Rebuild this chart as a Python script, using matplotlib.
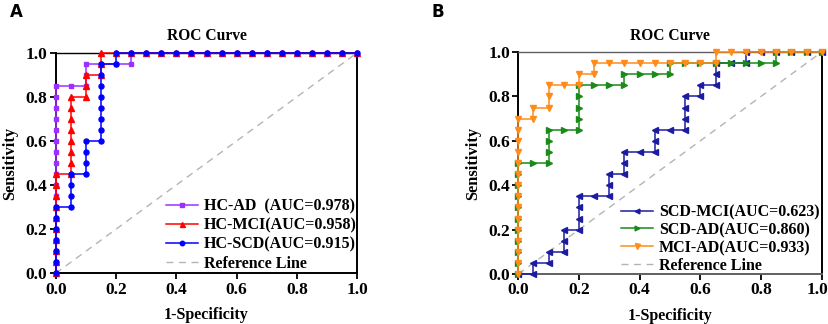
import matplotlib.pyplot as plt
from matplotlib.transforms import ScaledTranslation

plt.rcParams['font.family'] = ['Liberation Serif', 'DejaVu Serif']
plt.rcParams['font.weight'] = 'bold'

# ---- Panel A data (ROC points, 1-Specificity vs Sensitivity) ----
hc_ad_fpr = [0.0, 0.0, 0.0, 0.0, 0.0, 0.0, 0.0, 0.0, 0.0, 0.0, 0.0, 0.0, 0.0, 0.0, 0.0, 0.0, 0.0, 0.0,
             0.05, 0.1, 0.1, 0.1, 0.15, 0.2, 0.25, 0.25,
             0.3, 0.35, 0.4, 0.45, 0.5, 0.55, 0.6, 0.65, 0.7, 0.75, 0.8, 0.85, 0.9, 0.95, 1.0]
hc_ad_tpr = [0.0, 0.05, 0.1, 0.15, 0.2, 0.25, 0.3, 0.35, 0.4, 0.45, 0.5, 0.55, 0.6, 0.65, 0.7, 0.75, 0.8, 0.85,
             0.85, 0.85, 0.9, 0.95, 0.95, 0.95, 0.95, 1.0,
             1.0, 1.0, 1.0, 1.0, 1.0, 1.0, 1.0, 1.0, 1.0, 1.0, 1.0, 1.0, 1.0, 1.0, 1.0]

hc_mci_fpr = [0.0, 0.0, 0.0, 0.0, 0.0, 0.0, 0.0, 0.0, 0.0, 0.0,
              0.05, 0.05, 0.05, 0.05, 0.05, 0.05, 0.05, 0.05,
              0.1, 0.1, 0.1, 0.15, 0.15, 0.15,
              0.2, 0.25, 0.3, 0.35, 0.4, 0.45, 0.5, 0.55, 0.6, 0.65, 0.7, 0.75, 0.8, 0.85, 0.9, 0.95, 1.0]
hc_mci_tpr = [0.0, 0.05, 0.1, 0.15, 0.2, 0.25, 0.3, 0.35, 0.4, 0.45,
              0.45, 0.5, 0.55, 0.6, 0.65, 0.7, 0.75, 0.8,
              0.8, 0.85, 0.9, 0.9, 0.95, 1.0,
              1.0, 1.0, 1.0, 1.0, 1.0, 1.0, 1.0, 1.0, 1.0, 1.0, 1.0, 1.0, 1.0, 1.0, 1.0, 1.0, 1.0]

hc_scd_fpr = [0.0, 0.0, 0.0, 0.0, 0.0, 0.0, 0.0,
              0.05, 0.05, 0.05, 0.05,
              0.1, 0.1, 0.1, 0.1,
              0.15, 0.15, 0.15, 0.15, 0.15, 0.15, 0.15, 0.15,
              0.2, 0.2,
              0.25, 0.3, 0.35, 0.4, 0.45, 0.5, 0.55, 0.6, 0.65, 0.7, 0.75, 0.8, 0.85, 0.9, 0.95, 1.0]
hc_scd_tpr = [0.0, 0.05, 0.1, 0.15, 0.2, 0.25, 0.3,
              0.3, 0.35, 0.4, 0.45,
              0.45, 0.5, 0.55, 0.6,
              0.6, 0.65, 0.7, 0.75, 0.8, 0.85, 0.9, 0.95,
              0.95, 1.0,
              1.0, 1.0, 1.0, 1.0, 1.0, 1.0, 1.0, 1.0, 1.0, 1.0, 1.0, 1.0, 1.0, 1.0, 1.0, 1.0]

# ---- Panel B data ----
scd_mci_fpr = [0.0, 0.05, 0.05, 0.1, 0.1, 0.15, 0.15, 0.15, 0.2, 0.2, 0.2, 0.2,
               0.25, 0.3, 0.3, 0.3, 0.35, 0.35, 0.35, 0.4, 0.45, 0.45, 0.45,
               0.5, 0.55, 0.55, 0.55, 0.55, 0.6, 0.6, 0.65, 0.65, 0.65,
               0.7, 0.75, 0.75, 0.8, 0.85, 0.9, 0.95, 1.0]
scd_mci_tpr = [0.0, 0.0, 0.05, 0.05, 0.1, 0.1, 0.15, 0.2, 0.2, 0.25, 0.3, 0.35,
               0.35, 0.35, 0.4, 0.45, 0.45, 0.5, 0.55, 0.55, 0.55, 0.6, 0.65,
               0.65, 0.65, 0.7, 0.75, 0.8, 0.8, 0.85, 0.85, 0.9, 0.95,
               0.95, 0.95, 1.0, 1.0, 1.0, 1.0, 1.0, 1.0]

scd_ad_fpr = [0.0, 0.0, 0.0, 0.0, 0.0, 0.0, 0.0, 0.0, 0.0, 0.0, 0.0,
              0.05, 0.1, 0.1, 0.1, 0.1, 0.15, 0.2, 0.2, 0.2, 0.2, 0.2,
              0.25, 0.3, 0.35, 0.35, 0.4, 0.45, 0.5, 0.5,
              0.55, 0.6, 0.65, 0.7, 0.75, 0.8, 0.85, 0.85, 0.9, 0.95, 1.0]
scd_ad_tpr = [0.0, 0.05, 0.1, 0.15, 0.2, 0.25, 0.3, 0.35, 0.4, 0.45, 0.5,
              0.5, 0.5, 0.55, 0.6, 0.65, 0.65, 0.65, 0.7, 0.75, 0.8, 0.85,
              0.85, 0.85, 0.85, 0.9, 0.9, 0.9, 0.9, 0.95,
              0.95, 0.95, 0.95, 0.95, 0.95, 0.95, 0.95, 1.0, 1.0, 1.0, 1.0]

mci_ad_fpr = [0.0, 0.0, 0.0, 0.0, 0.0, 0.0, 0.0, 0.0, 0.0, 0.0, 0.0, 0.0, 0.0, 0.0, 0.0,
              0.05, 0.05, 0.1, 0.1, 0.1, 0.15, 0.2, 0.2, 0.25, 0.25,
              0.3, 0.35, 0.4, 0.45, 0.5, 0.55, 0.6, 0.65, 0.65,
              0.7, 0.75, 0.8, 0.85, 0.9, 0.95, 1.0]
mci_ad_tpr = [0.0, 0.05, 0.1, 0.15, 0.2, 0.25, 0.3, 0.35, 0.4, 0.45, 0.5, 0.55, 0.6, 0.65, 0.7,
              0.7, 0.75, 0.75, 0.8, 0.85, 0.85, 0.85, 0.9, 0.9, 0.95,
              0.95, 0.95, 0.95, 0.95, 0.95, 0.95, 0.95, 0.95, 1.0,
              1.0, 1.0, 1.0, 1.0, 1.0, 1.0, 1.0]

ticks = [0.0, 0.2, 0.4, 0.6, 0.8, 1.0]

fig = plt.figure(figsize=(8.29, 3.24), dpi=100)
ax_a = fig.add_axes([55.7 / 829, 1 - 273.3 / 324, 301.6 / 829, 220.6 / 324])
ax_b = fig.add_axes([518.3 / 829, 1 - 274 / 324, 303.4 / 829, 222 / 324])


def style_axes(ax, frame_color):
    ax.set_xlim(0, 1)
    ax.set_ylim(0, 1)
    ax.set_xticks(ticks)
    ax.set_yticks(ticks)
    ax.set_xticklabels([f'{t:.1f}' for t in ticks], fontsize=12.5, fontweight='bold')
    ax.set_yticklabels([f'{t:.1f}' for t in ticks], fontsize=12.5, fontweight='bold')
    ax.tick_params(direction='out', length=4, width=1.3, pad=2)
    for s in ['left', 'right']:
        ax.spines[s].set_color('black')
        ax.spines[s].set_linewidth(1.4)
    for s in ['top', 'bottom']:
        ax.spines[s].set_color(frame_color)
        ax.spines[s].set_linewidth(1.4)
    ax.spines['top'].set_linewidth(1.0)
    ax.set_title('ROC Curve', fontsize=11.2, fontweight='bold', pad=9)
    ax.set_xlabel('1-Specificity', fontsize=11.5, fontweight='bold', labelpad=7)
    ax.set_ylabel('Sensitivity', fontsize=11.8, fontweight='bold', labelpad=5)
    ax.plot([0, 1], [0, 1], color='#b4b4b4', lw=1.0, ls=(0, (5, 4)), label='Reference Line', zorder=1)


def roc(ax, x, y, color, marker, label, ms):
    ax.plot(x, y, color=color, marker=marker, ms=ms, lw=1.1, label=label,
            clip_on=False, zorder=3)


style_axes(ax_a, 'black')
roc(ax_a, hc_ad_fpr, hc_ad_tpr, '#9b30ff', 's', 'HC-AD  (AUC=0.978)', 3.3)
roc(ax_a, hc_mci_fpr, hc_mci_tpr, '#ff0000', '^', 'HC-MCI(AUC=0.958)', 4)
roc(ax_a, hc_scd_fpr, hc_scd_tpr, '#0000ff', 'o', 'HC-SCD(AUC=0.915)', 3.6)

style_axes(ax_b, '#606060')
roc(ax_b, scd_mci_fpr, scd_mci_tpr, '#1c1ca0', '<', 'SCD-MCI(AUC=0.623)', 3.8)
roc(ax_b, scd_ad_fpr, scd_ad_tpr, '#1a8a1a', '>', 'SCD-AD(AUC=0.860)', 3.8)
roc(ax_b, mci_ad_fpr, mci_ad_tpr, '#ff8c1a', 'v', 'MCI-AD(AUC=0.933)', 4)

# last x tick label of panel B sits at the figure edge; nudge it left a bit
lab = ax_b.get_xticklabels()[-1]
lab.set_transform(lab.get_transform() + ScaledTranslation(-4 / 100, 0, fig.dpi_scale_trans))

for ax, anchor, spacing in [(ax_a, (1.035, -0.045), 0.2), (ax_b, (1.03, -0.05), 0.12)]:
    h, l = ax.get_legend_handles_labels()
    order = [1, 2, 3, 0]
    ax.legend([h[i] for i in order], [l[i] for i in order], loc='lower right',
              bbox_to_anchor=anchor, frameon=False,
              prop={'weight': 'bold', 'size': 11.5}, handlelength=2.0,
              handletextpad=0.35, labelspacing=spacing, markerscale=0.9,
              borderaxespad=0.3)

fig.text(10 / 829, 1 - 12 / 324, 'A', fontsize=12, fontweight='bold',
         family='DejaVu Sans', ha='left', va='center')
fig.text(432 / 829, 1 - 12 / 324, 'B', fontsize=12, fontweight='bold',
         family='DejaVu Sans', ha='left', va='center')

fig.savefig('out.png', dpi=100, facecolor='white')
